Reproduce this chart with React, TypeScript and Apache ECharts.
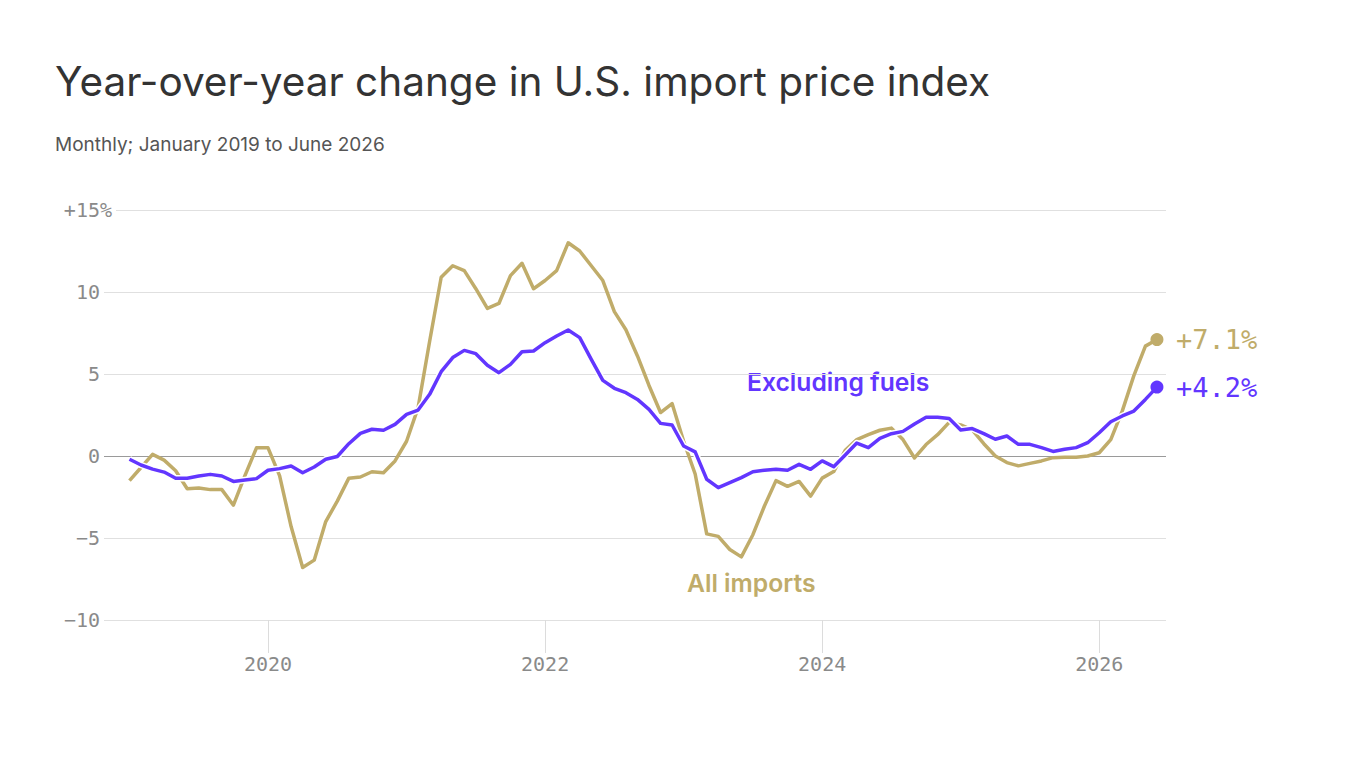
import React, { useEffect, useRef } from "react";
import * as echarts from "echarts";

// Monthly, January 2019 to June 2026 (year-over-year % change)
const START_YEAR = 2019;

const allImports: number[] = [
  // 2019
  -1.5, -0.7, 0.1, -0.25, -0.9, -2.0, -1.95, -2.05, -2.05, -3.0, -1.2, 0.5,
  // 2020
  0.5, -1.2, -4.3, -6.8, -6.35, -4.0, -2.75, -1.35, -1.28, -0.96, -1.02, -0.3,
  // 2021
  0.9, 2.95, 7.0, 10.9, 11.6, 11.3, 10.2, 9.0, 9.3, 11.0, 11.75, 10.2,
  // 2022
  10.7, 11.3, 13.0, 12.5, 11.6, 10.7, 8.8, 7.7, 6.1, 4.3, 2.65, 3.2,
  // 2023
  0.9, -1.1, -4.75, -4.9, -5.7, -6.15, -4.8, -3.05, -1.5, -1.85, -1.55, -2.45,
  // 2024
  -1.35, -0.95, 0.35, 1.0, 1.3, 1.57, 1.7, 1.0, -0.12, 0.7, 1.3, 2.05,
  // 2025
  1.9, 1.6, 0.75, 0.0, -0.4, -0.6, -0.45, -0.3, -0.1, -0.08, -0.07, 0.0,
  // 2026
  0.2, 1.0, 2.75, 4.9, 6.7, 7.1,
];

const excludingFuels: number[] = [
  // 2019
  -0.2, -0.55, -0.8, -0.98, -1.36, -1.36, -1.22, -1.12, -1.22, -1.55, -1.46, -1.38,
  // 2020
  -0.87, -0.77, -0.61, -1.02, -0.67, -0.2, -0.03, 0.75, 1.38, 1.63, 1.57, 1.93,
  // 2021
  2.54, 2.8, 3.76, 5.14, 6.0, 6.44, 6.24, 5.53, 5.08, 5.59, 6.36, 6.4,
  // 2022
  6.91, 7.32, 7.68, 7.22, 5.89, 4.61, 4.13, 3.86, 3.45, 2.84, 1.99, 1.89,
  // 2023
  0.61, 0.25, -1.42, -1.93, -1.63, -1.32, -0.96, -0.87, -0.81, -0.87, -0.51, -0.81,
  // 2024
  -0.3, -0.65, 0.06, 0.79, 0.51, 1.08, 1.36, 1.5, 1.95, 2.36, 2.36, 2.28,
  // 2025
  1.59, 1.67, 1.36, 1.02, 1.22, 0.71, 0.71, 0.51, 0.28, 0.41, 0.51, 0.81,
  // 2026
  1.42, 2.09, 2.44, 2.74, 3.45, 4.2,
];

const xTickYears: number[] = [2020, 2022, 2024, 2026];
const yMin = -10;
const yMax = 15;
const yStep = 5;

const TITLE = "Year-over-year change in U.S. import price index";
const SUBTITLE = "Monthly; January 2019 to June 2026";
const LABEL_ALL = "All imports";
const LABEL_EX = "Excluding fuels";

const GOLD = "#C0AC6A";
const PURPLE = "#6236FF";
const MONO = '"DejaVu Sans Mono", "Liberation Mono", monospace';
const SANS = 'Inter, "Noto Sans", sans-serif';

const toPoints = (vals: number[]) =>
  vals.map((v, i) => [START_YEAR + i / 12, v]);

const fmtY = (v: number) => {
  if (v === yMax) return "{n|+" + v + "}{p|%}";
  const s = v < 0 ? "\u2212" + Math.abs(v) : String(v);
  return "{m|" + s + "}";
};

const endText = (vals: number[]) => {
  const last = vals[vals.length - 1];
  return (last >= 0 ? "+" : "\u2212") + Math.abs(last).toFixed(1) + "%";
};

export default function App() {
  const ref = useRef<HTMLDivElement>(null);

  useEffect(() => {
    if (!ref.current) return;
    const chart = echarts.init(ref.current, null, { renderer: "svg" });

    const goldPts = toPoints(allImports);
    const purplePts = toPoints(excludingFuels);

    const labelFont = { fontFamily: MONO, fontSize: 20, color: "#8a8a8a" };

    const option: any = {
      animation: false,
      backgroundColor: "#ffffff",
      grid: { left: 104, right: 200, top: 210, bottom: 148 },
      xAxis: {
        type: "value",
        min: 2018.816,
        max: 2026.482,
        axisLine: { show: false, onZero: false },
        splitLine: { show: false },
        axisTick: {
          show: true,
          customValues: xTickYears,
          length: 33,
          lineStyle: { color: "#dcdcdc", width: 1 },
        },
        axisLabel: {
          customValues: xTickYears,
          formatter: (v: number) => String(Math.round(v)),
          ...labelFont,
          margin: 34,
        },
      },
      yAxis: {
        type: "value",
        min: yMin,
        max: yMax,
        interval: yStep,
        axisLine: { show: false },
        axisTick: { show: false },
        splitLine: {
          show: true,
          lineStyle: {
            color: ["#e0e0e0", "#e0e0e0", "#9a9a9a", "#e0e0e0", "#e0e0e0", "#e0e0e0"],
            width: 1,
          },
        },
        axisLabel: {
          margin: -12,
          align: "right",
          formatter: fmtY,
          rich: {
            n: { ...labelFont },
            m: { ...labelFont, padding: [0, 16, 0, 0] },
            p: { ...labelFont, backgroundColor: "#ffffff", padding: [0, 4, 0, 0] },
          },
        },
      },
      graphic: [
        {
          type: "text",
          x: 55,
          y: 81,
          style: {
            text: TITLE,
            fontFamily: SANS,
            fontSize: 40.5,
            fontWeight: 400,
            fill: "#333333",
            verticalAlign: "middle",
          },
        },
        {
          type: "text",
          x: 55,
          y: 144,
          style: {
            text: SUBTITLE,
            fontFamily: SANS,
            fontSize: 19,
            fontWeight: 400,
            fill: "#555555",
            verticalAlign: "middle",
          },
        },
        {
          type: "text",
          x: 747,
          y: 382,
          style: {
            text: LABEL_EX,
            fontFamily: SANS,
            fontSize: 24.7,
            fontWeight: 600,
            fill: PURPLE,
            verticalAlign: "middle",
          },
        },
        {
          type: "text",
          x: 687,
          y: 583,
          style: {
            text: LABEL_ALL,
            fontFamily: SANS,
            fontSize: 24.7,
            fontWeight: 600,
            fill: GOLD,
            verticalAlign: "middle",
          },
        },
      ],
      series: [
        {
          type: "line",
          name: LABEL_ALL,
          data: goldPts,
          showSymbol: false,
          silent: true,
          lineStyle: { color: GOLD, width: 3.5, join: "round" },
          itemStyle: { color: GOLD },
          endLabel: {
            show: true,
            formatter: () => endText(allImports),
            color: GOLD,
            fontFamily: MONO,
            fontSize: 27,
            distance: 19,
          },
          z: 2,
        },
        {
          type: "line",
          name: "halo",
          data: purplePts,
          showSymbol: false,
          silent: true,
          lineStyle: { color: "#ffffff", width: 6.5, join: "round" },
          z: 3,
        },
        {
          type: "line",
          name: LABEL_EX,
          data: purplePts,
          showSymbol: false,
          silent: true,
          lineStyle: { color: PURPLE, width: 3.5, join: "round" },
          itemStyle: { color: PURPLE },
          endLabel: {
            show: true,
            formatter: () => endText(excludingFuels),
            color: PURPLE,
            fontFamily: MONO,
            fontSize: 27,
            distance: 19,
          },
          z: 4,
        },
        {
          type: "scatter",
          data: [goldPts[goldPts.length - 1]],
          symbol: "circle",
          symbolSize: 13,
          itemStyle: { color: GOLD, opacity: 1 },
          silent: true,
          z: 5,
        },
        {
          type: "scatter",
          data: [purplePts[purplePts.length - 1]],
          symbol: "circle",
          symbolSize: 13,
          itemStyle: { color: PURPLE, opacity: 1 },
          silent: true,
          z: 5,
        },
      ],
    };

    chart.setOption(option);
    return () => chart.dispose();
  }, []);

  return (
    <div
      ref={ref}
      style={{ position: "absolute", left: 0, top: 0, width: 1366, height: 768 }}
    />
  );
}
